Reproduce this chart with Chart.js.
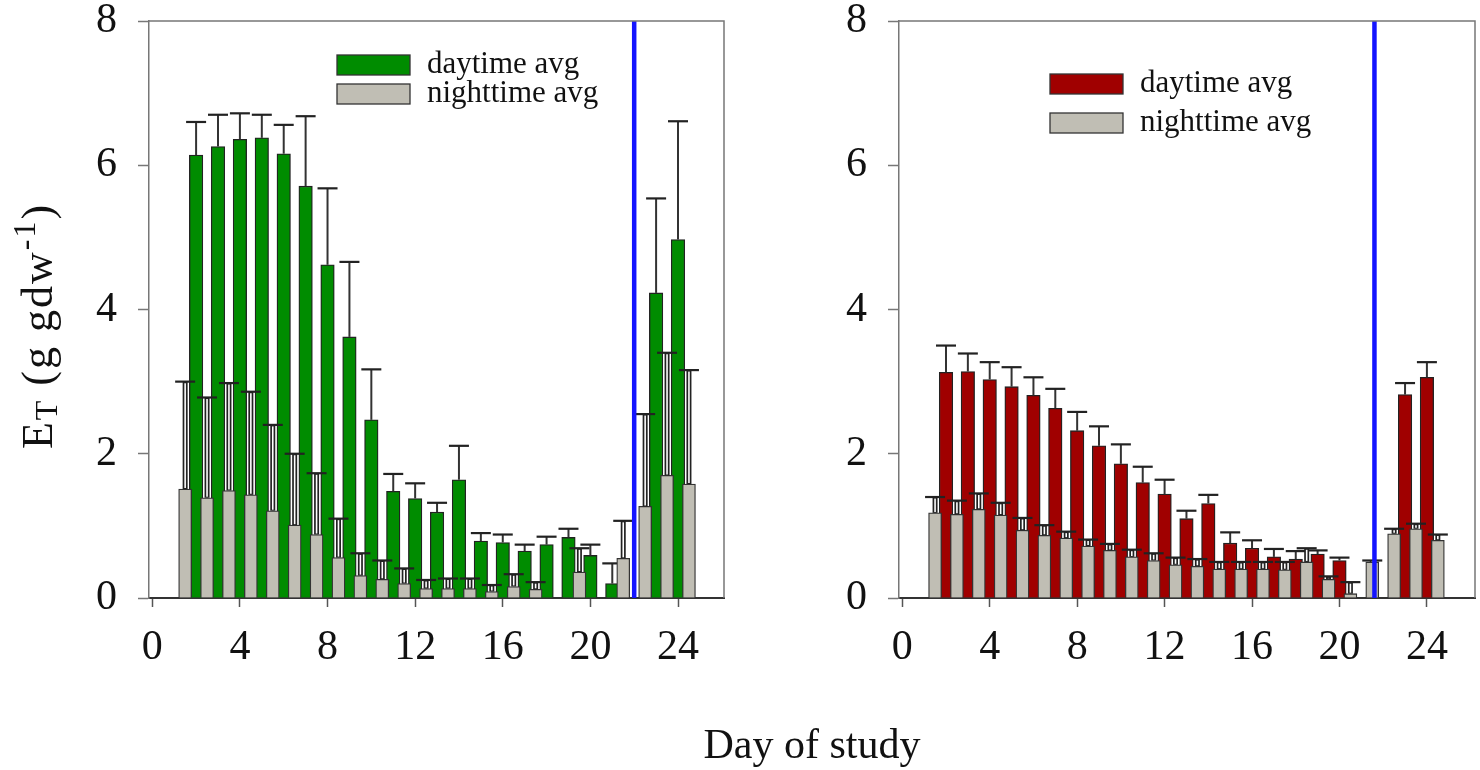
<!DOCTYPE html>
<html>
<head>
<meta charset="utf-8">
<script src="https://cdn.jsdelivr.net/npm/chart.js@4.4.1/dist/chart.umd.min.js"></script>
<style>
  body { margin: 0; background: #fff; }
  #wrap { position: relative; width: 1480px; height: 770px; }
  #chartA { position: absolute; left: 0; top: 0; }
  #chartB { position: absolute; left: 740px; top: 0; }
</style>
</head>
<body>
<div id="wrap">
  <canvas id="chartA" width="1480" height="770" style="width:1480px;height:770px"></canvas>
  <canvas id="chartB" width="740" height="770" style="width:740px;height:770px"></canvas>
</div>
<script>
var xTicks = [0, 4, 8, 12, 16, 20, 24];
var yTicks = [0, 2, 4, 6, 8];

// left panel (green)
var dayA = [2, 3, 4, 5, 6, 7, 8, 9, 10, 11, 12, 13, 14, 15, 16, 17, 18, 19, 20, 21, 23, 24];
var dayAvgA = [6.14, 6.26, 6.36, 6.38, 6.16, 5.71, 4.62, 3.62, 2.47, 1.48, 1.38, 1.19, 1.64, 0.79, 0.77, 0.65, 0.74, 0.84, 0.59, 0.20, 4.23, 4.97];
var dayErrA = [0.46, 0.44, 0.36, 0.32, 0.40, 0.97, 1.06, 1.04, 0.70, 0.24, 0.21, 0.13, 0.47, 0.11, 0.11, 0.09, 0.11, 0.12, 0.15, 0.28, 1.31, 1.64];
var nightA = [1.5, 2.5, 3.5, 4.5, 5.5, 6.5, 7.5, 8.5, 9.5, 10.5, 11.5, 12.5, 13.5, 14.5, 15.5, 16.5, 17.5, 19.5, 21.5, 22.5, 23.5, 24.5];
var nightAvgA = [1.51, 1.39, 1.49, 1.43, 1.21, 1.01, 0.88, 0.56, 0.31, 0.26, 0.20, 0.13, 0.13, 0.13, 0.09, 0.16, 0.12, 0.36, 0.55, 1.27, 1.70, 1.58];
var nightErrA = [1.49, 1.39, 1.49, 1.43, 1.19, 0.99, 0.85, 0.54, 0.31, 0.26, 0.21, 0.12, 0.14, 0.14, 0.09, 0.17, 0.10, 0.33, 0.52, 1.28, 1.70, 1.58];
var switchA = 22;

// right panel (red)
var dayB = [2, 3, 4, 5, 6, 7, 8, 9, 10, 11, 12, 13, 14, 15, 16, 17, 18, 19, 20, 23, 24];
var dayAvgB = [3.13, 3.14, 3.03, 2.93, 2.81, 2.63, 2.32, 2.11, 1.86, 1.60, 1.44, 1.10, 1.31, 0.76, 0.69, 0.57, 0.54, 0.61, 0.52, 2.82, 3.06];
var dayErrB = [0.37, 0.25, 0.24, 0.27, 0.25, 0.27, 0.26, 0.27, 0.27, 0.22, 0.20, 0.11, 0.12, 0.15, 0.11, 0.11, 0.11, 0.05, 0.04, 0.16, 0.21];
var nightB = [1.5, 2.5, 3.5, 4.5, 5.5, 6.5, 7.5, 8.5, 9.5, 10.5, 11.5, 12.5, 13.5, 14.5, 15.5, 16.5, 17.5, 18.5, 19.5, 20.5, 21.5, 22.5, 23.5, 24.5];
var nightAvgB = [1.18, 1.16, 1.23, 1.15, 0.94, 0.87, 0.83, 0.72, 0.66, 0.57, 0.52, 0.46, 0.44, 0.40, 0.40, 0.40, 0.39, 0.50, 0.26, 0.06, 0.50, 0.89, 0.96, 0.80];
var nightErrB = [0.22, 0.19, 0.22, 0.17, 0.17, 0.14, 0.09, 0.09, 0.09, 0.10, 0.10, 0.10, 0.10, 0.10, 0.10, 0.10, 0.11, 0.19, 0.04, 0.16, 0.02, 0.07, 0.07, 0.08];
var switchB = 21.6;

Chart.defaults.font.family = '"Liberation Serif", "Times New Roman", serif';
Chart.defaults.color = '#111';

function pts(xs, ys) {
    return xs.map(function (x, i) { return { x: x, y: ys[i] }; });
}

function seg(ctx, x1, y1, x2, y2) {
    ctx.beginPath();
    ctx.moveTo(x1, y1);
    ctx.lineTo(x2, y2);
    ctx.stroke();
}

// error bars, frame, legend and titles
var extras = {
    id: 'extras',
    afterDatasetDraw: function (chart, args) {
        var ds = chart.data.datasets[args.index];
        if (!ds.errors) return;
        var ctx = chart.ctx, ys = chart.scales.y;
        ctx.save();
        args.meta.data.forEach(function (bar, j) {
            var top = ys.getPixelForValue(ds.data[j].y + ds.errors[j]);
            var x = bar.x, y0 = bar.y;
            if (ds.hollowErr) {
                ctx.strokeStyle = '#222'; ctx.lineWidth = 5;
                seg(ctx, x, y0, x, top);
                ctx.strokeStyle = '#fff'; ctx.lineWidth = 1.6;
                seg(ctx, x, y0 - 1, x, top + 1.5);
            } else {
                ctx.strokeStyle = '#333'; ctx.lineWidth = 2;
                seg(ctx, x, y0, x, top);
            }
            ctx.strokeStyle = '#222'; ctx.lineWidth = 2.2;
            seg(ctx, x - 10, top, x + 10, top);
        });
        ctx.restore();
    },
    afterDraw: function (chart, args, opts) {
        var ctx = chart.ctx, a = chart.chartArea;
        ctx.save();
        ctx.strokeStyle = '#777'; ctx.lineWidth = 1.5;
        ctx.beginPath();
        ctx.moveTo(a.left, a.top); ctx.lineTo(a.right, a.top); ctx.lineTo(a.right, a.bottom);
        ctx.stroke();

        // legend
        var lg = opts.legend;
        var bars = chart.data.datasets.filter(function (d) { return d.type !== 'line'; });
        ctx.font = '31px "Liberation Serif", serif';
        ctx.textBaseline = 'middle';
        ctx.textAlign = 'left';
        bars.forEach(function (d, i) {
            var y = lg.y + i * lg.dy;
            ctx.fillStyle = d.backgroundColor;
            ctx.fillRect(lg.x, y, 73, 20);
            ctx.strokeStyle = '#333'; ctx.lineWidth = 1.3;
            ctx.strokeRect(lg.x, y, 73, 20);
            ctx.fillStyle = '#111';
            ctx.fillText(d.label, lg.x + 90, y + 10);
        });

        if (opts.titles) {
            ctx.fillStyle = '#111';
            ctx.textBaseline = 'alphabetic';
            ctx.font = '42px "Liberation Serif", serif';
            ctx.textAlign = 'center';
            ctx.fillText('Day of study', 812, 758);

            var parts = [['E', 44, 0], ['T', 32, 5], [' (g gdw', 44, 0], ['-1', 32, -17], [')', 44, 0]];
            ctx.textAlign = 'left';
            ctx.letterSpacing = '2px';
            var total = 0;
            parts.forEach(function (p) {
                ctx.font = p[1] + 'px "Liberation Serif", serif';
                p.push(ctx.measureText(p[0]).width);
                total += p[3];
            });
            ctx.translate(52, 326);
            ctx.rotate(-Math.PI / 2);
            var x = -total / 2;
            parts.forEach(function (p) {
                ctx.font = p[1] + 'px "Liberation Serif", serif';
                ctx.fillText(p[0], x, p[2]);
                x += p[3];
            });
        }
        ctx.restore();
    }
};

function panel(id, green, night, sw, cfg) {
    var ctx = document.getElementById(id).getContext('2d');
    return new Chart(ctx, {
        type: 'bar',
        data: {
            datasets: [{
                type: 'line',
                label: 'switch',
                data: [{ x: sw, y: 0 }, { x: sw, y: 8 }],
                borderColor: '#1414ff',
                borderWidth: 4.5,
                pointRadius: 0,
                order: 0
            }, green, night]
        },
        options: {
            responsive: false,
            animation: false,
            layout: { padding: { left: 0, right: cfg.padRight, top: 21, bottom: 0 } },
            plugins: {
                legend: { display: false },
                tooltip: { enabled: false },
                extras: { legend: cfg.legend, titles: cfg.titles }
            },
            scales: {
                x: {
                    type: 'linear',
                    min: -0.15,
                    max: cfg.xMax,
                    offset: false,
                    afterBuildTicks: function (axis) {
                        axis.ticks = xTicks.map(function (v) { return { value: v }; });
                    },
                    afterFit: function (axis) { axis.height = 172; },
                    ticks: { font: { size: 42, lineHeight: 1 }, padding: 20, color: '#111', maxRotation: 0 },
                    grid: { drawOnChartArea: false, offset: false, tickLength: 9, tickColor: '#555', tickWidth: 1.5 },
                    border: { color: '#333', width: 2 }
                },
                y: {
                    min: 0,
                    max: 8,
                    afterBuildTicks: function (axis) {
                        axis.ticks = yTicks.map(function (v) { return { value: v }; });
                    },
                    afterFit: function (axis) {
                        axis.width = cfg.yWidth;
                        axis.paddingTop = 0;
                        axis.paddingBottom = 0;
                    },
                    ticks: { font: { size: 42, lineHeight: 1 }, padding: 21, color: '#111' },
                    grid: { drawOnChartArea: false, tickLength: 11, tickColor: '#777', tickWidth: 1.5 },
                    border: { color: '#777', width: 1.5 }
                }
            }
        },
        plugins: [extras]
    });
}

var chartA = panel('chartA', {
    label: 'daytime avg',
    data: pts(dayA, dayAvgA),
    errors: dayErrA,
    backgroundColor: '#008c00',
    borderColor: '#222',
    borderWidth: 1.3,
    grouped: false,
    barThickness: 13.5,
    order: 2
}, {
    label: 'nighttime avg',
    data: pts(nightA, nightAvgA),
    errors: nightErrA,
    hollowErr: true,
    backgroundColor: '#c0beb4',
    borderColor: '#333',
    borderWidth: 1.3,
    grouped: false,
    barThickness: 13,
    order: 1
}, switchA, { padRight: 756, yWidth: 149, xMax: 26.1, legend: { x: 337, y: 55, dy: 29 }, titles: true });

var chartB = panel('chartB', {
    label: 'daytime avg',
    data: pts(dayB, dayAvgB),
    errors: dayErrB,
    backgroundColor: '#a00000',
    borderColor: '#222',
    borderWidth: 1.3,
    grouped: false,
    barThickness: 13.5,
    order: 2
}, {
    label: 'nighttime avg',
    data: pts(nightB, nightAvgB),
    errors: nightErrB,
    hollowErr: true,
    backgroundColor: '#c0beb4',
    borderColor: '#333',
    borderWidth: 1.3,
    grouped: false,
    barThickness: 13,
    order: 1
}, switchB, { padRight: 5, yWidth: 159, xMax: 26.2, legend: { x: 310, y: 74, dy: 39 }, titles: false });
</script>
</body>
</html>
